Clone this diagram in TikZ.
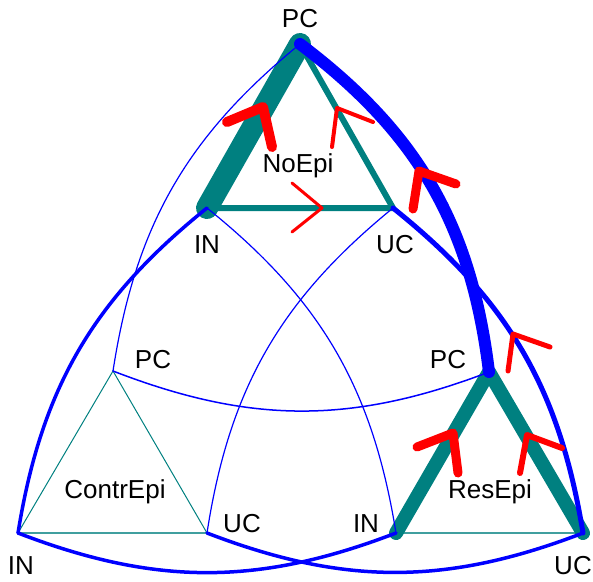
\documentclass[tikz,border=0pt]{standalone}
\usepackage{fontspec}
\setmainfont{Liberation Sans}
\begin{document}
\begin{tikzpicture}[x=1pt,y=-1pt,
  edge/.style={draw=teal, line cap=round, line join=round},
  faint/.style={draw=teal!75, line width=1.4},
  arc/.style={draw=blue, line cap=round},
  chev/.style={draw=red, line cap=round, line join=round},
  lbl/.style={anchor=base, inner sep=0pt, font=\fontsize{26}{31}\selectfont}]
\useasboundingbox (0,0) rectangle (593,581);
% vertices
\coordinate (TPC) at (300,44);
\coordinate (TIN) at (207,208);
\coordinate (TUC) at (393,208);
\coordinate (LPC) at (113,371);
\coordinate (LIN) at (18,533);
\coordinate (LUC) at (207,533);
\coordinate (RPC) at (489,372);
\coordinate (RIN) at (396,533);
\coordinate (RUC) at (583,533);
% teal triangles
\draw[edge, line width=6, line cap=butt, line join=miter] (TIN) -- (TUC) -- (TPC);
\draw[edge, line width=22] (TIN) -- (TPC);
\draw[teal, line width=1] (LIN) -- (LPC) -- (LUC);
\draw[faint] (LIN) -- (LUC);
\draw[faint] (RIN) -- (RUC);
\draw[edge, line width=14] (RIN) -- (RPC) -- (RUC);
% blue arcs
\draw[arc, line width=1.2] (TPC) to[bend right=21] (LPC);
\draw[arc, line width=12] (TPC) to[bend left=23] (RPC);
\draw[arc, line width=3.5] (TIN) to[bend right=21] (LIN);
\draw[arc, line width=5] (TUC) to[bend left=21] (RUC);
\draw[arc, line width=1.2] (TIN) to[bend left=21] (RIN);
\draw[arc, line width=1.2] (TUC) to[bend right=21] (LUC);
\draw[arc, line width=1.5] (LPC) to[bend right=21] (RPC);
\draw[arc, line width=3.5] (LIN) to[bend right=21] (RIN);
\draw[arc, line width=3.5] (LUC) to[bend right=21] (RUC);
% red chevrons
\draw[chev, line width=10] (227,122) -- (263,107) -- (272,147);
\draw[chev, line width=4] (332,147) -- (337,108) -- (373,122);
\draw[chev, line width=3] (292,183) -- (322,208) -- (292,232);
\draw[chev, line width=9] (413,209) -- (419,171) -- (456,184);
\draw[chev, line width=5] (508,371) -- (513,334) -- (550,347);
\draw[chev, line width=9] (417,447) -- (453,433) -- (458,473);
\draw[chev, line width=6] (520,473) -- (527,435) -- (562,448);
% labels
\node[lbl] (lTPC) at (300,27) {PC};
\node[lbl] (lNo) at (298,172) {NoEpi};
\node[lbl] (lTIN) at (207,253) {IN};
\node[lbl] (lTUC) at (395,253) {UC};
\node[lbl] (lLPC) at (153,368) {PC};
\node[lbl] (lRPC) at (448,368) {PC};
\node[lbl] (lContr) at (115,498) {ContrEpi};
\node[lbl] (lLUC) at (242,532) {UC};
\node[lbl] (lRIN) at (366,532) {IN};
\node[lbl] (lRes) at (490,498) {ResEpi};
\node[lbl] (lLIN) at (21,574) {IN};
\node[lbl] (lRUC) at (573,574) {UC};
\end{tikzpicture}
\end{document}
